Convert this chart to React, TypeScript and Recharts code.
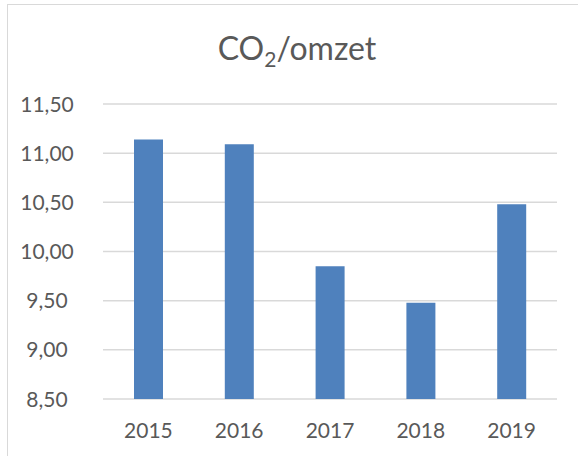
import React from "react";
import { BarChart, Bar, XAxis, YAxis, CartesianGrid } from "recharts";

const categories = ["2015", "2016", "2017", "2018", "2019"];
const values = [11.14, 11.09, 9.85, 9.48, 10.48];
const yTicks = [8.5, 9.0, 9.5, 10.0, 10.5, 11.0, 11.5];

const data = categories.map((c, i) => ({ year: c, value: values[i] }));

const FONT = "Lato, 'Open Sans', sans-serif";
const TEXT = "#595959";

const YTick = (props: any) => {
  const { x, y, payload } = props;
  return (
    <text
      x={x - 48}
      y={y}
      dy="0.36em"
      textAnchor="middle"
      fill={TEXT}
      fontSize={21}
      fontFamily={FONT}
    >
      {payload.value.toFixed(2).replace(".", ",")}
    </text>
  );
};

const XTick = (props: any) => {
  const { x, y, payload } = props;
  return (
    <text
      x={x}
      y={y}
      dy={31}
      textAnchor="middle"
      fill={TEXT}
      fontSize={21}
      fontFamily={FONT}
    >
      {payload.value}
    </text>
  );
};

export default function App() {
  return (
    <div
      style={{
        position: "absolute",
        left: 0,
        top: 0,
        width: 578,
        height: 456,
        overflow: "hidden",
        background: "#fff",
      }}
    >
      <div
        style={{
          position: "absolute",
          left: 7,
          top: 4,
          width: 600,
          height: 480,
          border: "1.5px solid #D9D9D9",
          boxSizing: "border-box",
        }}
      />
      <svg
        width={578}
        height={100}
        style={{ position: "absolute", left: 0, top: 0 }}
      >
        <text
          x={297}
          y={60}
          textAnchor="middle"
          fill={TEXT}
          fontSize={32}
          fontFamily={FONT}
        >
          CO
          <tspan fontSize={21} dy={7}>
            2
          </tspan>
          <tspan dy={-7}>/omzet</tspan>
        </text>
      </svg>
      <div style={{ position: "absolute", left: 0, top: 0 }}>
        <BarChart
          width={578}
          height={456}
          data={data}
          margin={{ top: 104, right: 21, bottom: 27, left: 0 }}
          barSize={29}
        >
          <CartesianGrid
            vertical={false}
            stroke="#D9D9D9"
            strokeWidth={1.5}
          />
          <XAxis
            dataKey="year"
            axisLine={false}
            tickLine={false}
            tick={<XTick />}
            interval={0}
            height={30}
          />
          <YAxis
            width={103}
            domain={[8.5, 11.5]}
            ticks={yTicks}
            axisLine={false}
            tickLine={false}
            tick={<YTick />}
            interval={0}
          />
          <Bar dataKey="value" fill="#4F81BD" isAnimationActive={false} />
        </BarChart>
      </div>
    </div>
  );
}
